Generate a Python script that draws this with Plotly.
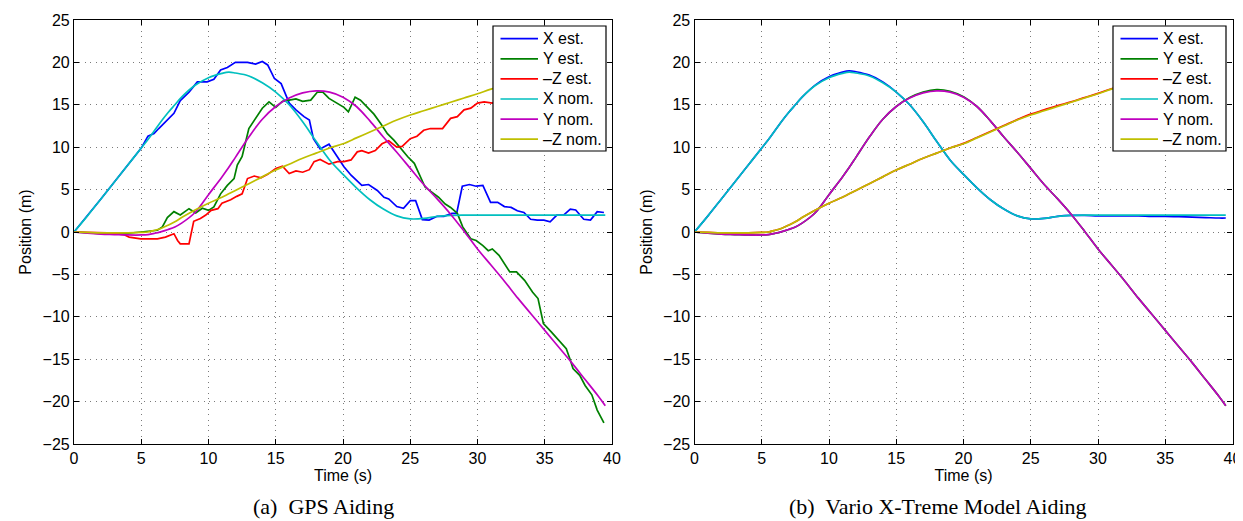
import plotly.graph_objects as go

# ---------------- data ----------------
# nominal trajectories (same in both panels)
t_nom = [0, 1, 2, 3, 4, 5, 5.5, 6, 6.5, 7, 7.5, 8, 9, 10, 11, 11.5, 12, 13, 14, 15, 16, 17, 18,
         19, 20, 21, 22, 23, 24, 25, 26, 27, 28, 29, 30, 31, 32, 33, 34, 35, 36, 37, 38, 39, 39.5]
x_nom = [0, 1.9, 3.9, 5.9, 7.9, 9.9, 10.9, 12.0, 13.1, 14.1, 15.0, 15.9, 17.3, 18.2, 18.7, 18.85, 18.75,
         18.4, 17.6, 16.5, 15.0, 13.0, 10.7, 8.5, 6.8, 5.2, 3.8, 2.7, 1.9, 1.55, 1.6, 1.85, 1.97,
         2.0, 2.0, 2.0, 2.0, 2.0, 2.0, 2.0, 2.0, 2.0, 2.0, 2.0, 2.0]
y_nom = [0, -0.15, -0.25, -0.3, -0.35, -0.35, -0.3, -0.15, 0.05, 0.3, 0.6, 1.05, 2.3, 4.4, 6.5,
         7.6, 8.8, 11.2, 13.3, 14.8, 15.8, 16.4, 16.65, 16.5, 15.9, 14.8, 13.1, 11.2, 9.4, 7.5,
         5.6, 3.9, 2.1, 0.1, -2.0, -3.9, -5.8, -7.8, -9.7, -11.6, -13.5, -15.4, -17.4, -19.4, -20.5]
z_nom = [0, -0.05, -0.1, -0.1, -0.1, -0.05, 0.0, 0.2, 0.45, 0.8, 1.2, 1.7, 2.6, 3.4, 4.1, 4.5,
         4.9, 5.7, 6.5, 7.3, 8.0, 8.7, 9.3, 9.9, 10.4, 11.1, 11.8, 12.5, 13.2, 13.8, 14.3, 14.8,
         15.3, 15.8, 16.3, 16.85, 17.3, 17.8, 18.3, 18.8, 19.3, 19.8, 20.3, 20.8, 21.0]

# (a) GPS aiding estimates
t_xa = [0, 1, 2, 3, 4, 5, 5.5, 5.95, 6.3, 6.8, 7.43, 7.9, 8.55, 9.17, 9.9, 10.4, 10.9, 11.4, 12.0,
        12.9, 13.5, 14.0, 14.4, 14.9, 15.4, 16.0, 16.5, 17.1, 17.5, 17.8, 18.3, 18.96, 19.6, 20.07,
        20.6, 21.4, 21.9, 22.55, 23.05, 23.4, 24.0, 24.5, 25.0, 25.4, 25.9, 26.4, 27.0, 27.5, 28.1,
        28.45, 28.87, 29.4, 29.9, 30.4, 30.97, 31.5, 32.0, 32.5, 32.96, 33.45, 33.95, 34.45, 34.94,
        35.4, 35.9, 36.4, 36.9, 37.3, 37.9, 38.4, 38.9, 39.4]
x_gps = [0, 1.9, 3.9, 5.9, 7.9, 9.9, 11.3, 11.6, 12.2, 13.0, 14.0, 15.5, 16.5, 17.7, 17.7, 18.0,
         19.1, 19.4, 20.0, 20.0, 19.8, 20.1, 19.7, 18.1, 17.5, 15.2, 14.4, 13.6, 13.2, 11.0, 9.8,
         10.35, 8.9, 7.7, 6.7, 5.5, 5.6, 4.9, 4.1, 3.9, 3.0, 2.8, 3.7, 3.7, 1.46, 1.4, 1.85, 1.85,
         2.2, 2.2, 5.4, 5.6, 5.4, 5.5, 3.5, 3.5, 3.0, 2.9, 2.5, 2.3, 1.5, 1.4, 1.4, 1.2, 2.0, 2.0,
         2.7, 2.6, 1.5, 1.4, 2.4, 2.3]
t_ya = [0, 1, 2, 3, 4, 5, 5.5, 6.2, 6.57, 6.94, 7.43, 7.9, 8.55, 9.05, 9.54, 10.0, 10.4, 10.9,
        11.4, 11.9, 12.14, 12.5, 13.0, 13.5, 14.0, 14.5, 15.0, 15.5, 16.0, 16.5, 17.0, 17.6, 18.1,
        18.5, 18.96, 19.6, 20.07, 20.4, 20.9, 21.3, 21.8, 22.3, 22.8, 23.3, 23.8, 24.3, 24.8, 25.3,
        25.65, 26.1, 26.6, 27.1, 27.6, 28.0, 28.5, 28.9, 29.5, 29.9, 30.4, 30.8, 31.1, 31.6, 32.4,
        32.9, 33.5, 34.1, 34.5, 34.9, 35.5, 36.1, 36.6, 36.9, 37.1, 37.6, 38.0, 38.5, 38.9, 39.4]
y_gps = [0, -0.1, -0.2, -0.2, -0.15, 0.0, 0.05, 0.2, 0.6, 1.7, 2.4, 2.0, 2.75, 2.25, 2.8, 2.55,
         2.95, 4.5, 5.5, 6.3, 7.9, 8.9, 12.2, 13.4, 14.6, 15.35, 14.7, 15.4, 15.55, 15.7, 15.4,
         15.55, 16.5, 16.5, 15.75, 15.2, 14.7, 14.17, 15.9, 15.55, 14.7, 13.9, 12.8, 11.6, 10.8,
         9.8, 8.9, 8.1, 6.9, 5.3, 4.7, 4.1, 3.3, 2.9, 2.2, 0.6, -0.8, -1.0, -1.6, -2.2, -2.0, -2.75,
         -4.7, -4.7, -5.7, -7.1, -7.85, -10.8, -11.8, -12.8, -13.75, -15.1, -16.1, -16.9, -18.1,
         -19.2, -21.0, -22.5]
t_za = [0, 1, 2.5, 3.7, 4.1, 4.96, 6.2, 6.8, 7.43, 7.7, 7.9, 8.55, 8.9, 9.4, 9.8, 10.2, 10.7, 11.0,
        11.65, 12.1, 12.5, 12.9, 13.4, 13.9, 14.4, 15.0, 15.5, 16.0, 16.5, 17.0, 17.5, 17.85, 18.3,
        18.96, 19.6, 20.07, 20.6, 21.06, 21.4, 21.9, 22.4, 22.9, 23.4, 24.0, 24.4, 25.0, 25.5, 26.0,
        26.5, 27.4, 28.0, 28.5, 29.0, 29.5, 30.0, 30.5, 31.1, 32.5, 34.0, 35.5, 37.0, 38.5, 39.5]
z_gps = [0, -0.05, -0.1, -0.3, -0.6, -0.8, -0.8, -0.6, -0.2, -1.0, -1.4, -1.4, 1.26, 1.6, 2.0,
         2.55, 2.75, 3.4, 3.8, 4.2, 4.5, 6.3, 6.6, 6.4, 6.8, 7.5, 7.75, 6.9, 7.2, 7.05, 7.35, 8.3,
         8.55, 8.0, 8.3, 8.3, 8.5, 9.45, 9.6, 9.3, 9.6, 10.4, 10.75, 10.0, 10.1, 11.0, 11.3, 12.0,
         12.2, 12.2, 13.4, 13.6, 14.4, 14.6, 15.2, 15.35, 15.2, 16.0, 16.8, 17.5, 18.2, 18.9, 19.3]

# (b) Vario X-Treme model aiding estimates (sampled on t_nom)
x_model = [0, 1.9, 3.9, 5.9, 7.9, 9.9, 10.9, 12.0, 13.1, 14.1, 15.0, 15.9, 17.35, 18.3, 18.85,
           19.0, 18.9, 18.5, 17.7, 16.5, 15.0, 13.0, 10.7, 8.5, 6.8, 5.2, 3.8, 2.7, 1.9, 1.55, 1.6,
           1.85, 1.95, 1.95, 1.9, 1.9, 1.9, 1.9, 1.85, 1.85, 1.8, 1.75, 1.7, 1.65, 1.65]
y_model = [0, -0.15, -0.25, -0.3, -0.35, -0.35, -0.3, -0.15, 0.05, 0.3, 0.6, 1.05, 2.3, 4.4, 6.5,
           7.6, 8.8, 11.2, 13.3, 14.8, 15.85, 16.5, 16.8, 16.6, 15.95, 14.8, 13.1, 11.2, 9.4, 7.5,
           5.6, 3.9, 2.1, 0.1, -2.0, -3.9, -5.8, -7.8, -9.7, -11.6, -13.5, -15.4, -17.4, -19.4,
           -20.5]
z_model = [0, -0.05, -0.1, -0.1, -0.1, -0.05, 0.0, 0.2, 0.45, 0.8, 1.2, 1.7, 2.6, 3.4, 4.1, 4.5,
           4.9, 5.7, 6.5, 7.3, 8.0, 8.7, 9.3, 9.9, 10.45, 11.15, 11.85, 12.55, 13.25, 13.9, 14.4,
           14.9, 15.35, 15.85, 16.35, 16.9, 17.35, 17.85, 18.35, 18.85, 19.35, 19.85, 20.3, 20.8,
           21.0]

names = ["X est.", "Y est.", "–Z est.", "X nom.", "Y nom.", "–Z nom."]
colors = ["#0000ff", "#008000", "#ff0000", "#00bfbf", "#bf00bf", "#bfbf00"]
captions = ["(a)  GPS Aiding", "(b)  Vario X-Treme Model Aiding"]
x_ticks = [0, 5, 10, 15, 20, 25, 30, 35, 40]
y_ticks = [-25, -20, -15, -10, -5, 0, 5, 10, 15, 20, 25]

# ---------------- figure ----------------
W, H = 1243, 521
fig = go.Figure()

panel_a = [(t_xa, x_gps, "linear"), (t_ya, y_gps, "linear"), (t_za, z_gps, "linear"),
           (t_nom, x_nom, "spline"), (t_nom, y_nom, "spline"), (t_nom, z_nom, "spline")]
panel_b = [(t_nom, x_model, "spline"), (t_nom, y_model, "spline"), (t_nom, z_model, "spline"),
           (t_nom, x_nom, "spline"), (t_nom, y_nom, "spline"), (t_nom, z_nom, "spline")]

for k, (tt, vv, shp) in enumerate(panel_a):
    fig.add_trace(go.Scatter(x=tt, y=vv, mode="lines", name=names[k], showlegend=False,
                             line=dict(color=colors[k], width=1.7, shape=shp),
                             xaxis="x", yaxis="y"))
for k, (tt, vv, shp) in enumerate(panel_b):
    fig.add_trace(go.Scatter(x=tt, y=vv, mode="lines", name=names[k], showlegend=False,
                             line=dict(color=colors[k], width=1.7, shape=shp),
                             xaxis="x2", yaxis="y2"))

font_sans = "Liberation Sans, Arial, sans-serif"
font_serif = "Liberation Serif, DejaVu Serif, serif"
ybot, ytop = 1 - 436 / H, 1 - 12 / H
dom_a = [66 / W, 604 / W]
dom_b = [686.5 / W, 1224.5 / W]


def px(x):
    return x / W


def py(y):
    return 1 - y / H


def xaxis(dom, anchor):
    return dict(domain=dom, anchor=anchor, range=[0, 40], tickvals=x_ticks, automargin=False,
                ticks="inside", ticklen=5, tickcolor="black", mirror="allticks",
                showline=True, linecolor="black", linewidth=1.2,
                showgrid=True, gridcolor="#7a7a7a", griddash="1px,4.4px", gridwidth=1,
                zeroline=False, tickfont=dict(family=font_sans, size=16, color="black"),
                title=dict(text="Time (s)", font=dict(family=font_sans, size=16, color="black"),
                           standoff=0))


def yaxis(anchor):
    return dict(domain=[ybot, ytop], anchor=anchor, range=[-25, 25], tickvals=y_ticks,
                automargin=False,
                ticks="inside", ticklen=5, tickcolor="black", mirror="allticks",
                showline=True, linecolor="black", linewidth=1.2,
                showgrid=True, gridcolor="#7a7a7a", griddash="1px,4.4px", gridwidth=1,
                zeroline=False, tickfont=dict(family=font_sans, size=16, color="black"),
                title=dict(text="Position (m)", font=dict(family=font_sans, size=16, color="black"),
                           standoff=6))


# manual legends (box + line samples + labels), one per panel
shapes, annotations = [], []
for box_left in (485, 1105):
    shapes.append(dict(type="rect", xref="paper", yref="paper", layer="above",
                       x0=px(box_left), x1=px(box_left + 113), y0=py(143), y1=py(18),
                       fillcolor="white", line=dict(color="black", width=1.2)))
    for i, (nm, col) in enumerate(zip(names, colors)):
        yc = 30.7 + 20.1 * i
        shapes.append(dict(type="line", xref="paper", yref="paper", layer="above",
                           x0=px(box_left + 7.5), x1=px(box_left + 45), y0=py(yc), y1=py(yc),
                           line=dict(color=col, width=1.7)))
        annotations.append(dict(text=nm, x=px(box_left + 48), y=py(yc), xref="paper",
                                yref="paper", showarrow=False, xanchor="left", yanchor="middle",
                                font=dict(family=font_sans, size=16, color="black")))

for cap, cx in zip(captions, (315, 930)):
    annotations.append(dict(text=cap, x=px(cx), y=py(498), xref="paper", yref="paper",
                            showarrow=False, xanchor="center", yanchor="middle",
                            font=dict(family=font_serif, size=22, color="black")))

fig.update_layout(
    width=W, height=H, paper_bgcolor="white", plot_bgcolor="white",
    margin=dict(l=0, r=0, t=0, b=0), showlegend=False,
    xaxis=xaxis(dom_a, "y"), yaxis=yaxis("x"),
    xaxis2=xaxis(dom_b, "y2"), yaxis2=yaxis("x2"),
    shapes=shapes, annotations=annotations,
)

fig.write_html("out.html")
